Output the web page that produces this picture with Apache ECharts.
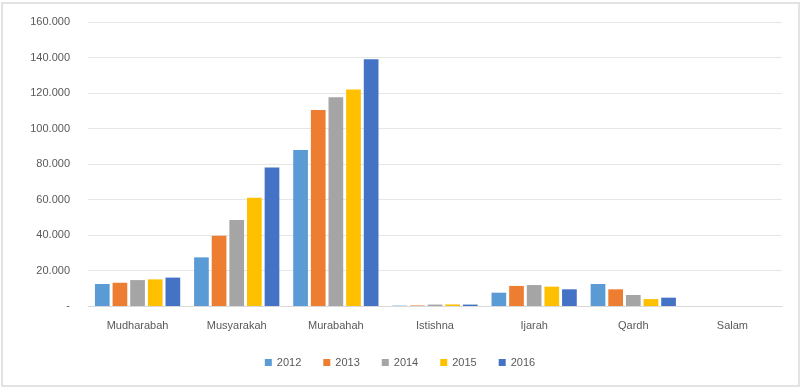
<!DOCTYPE html>
<html><head><meta charset="utf-8">
<script src="https://cdn.jsdelivr.net/npm/echarts@6/dist/echarts.min.js"></script>
<style>
html,body{margin:0;padding:0;background:#fff;}
#frame{position:absolute;left:1px;top:2px;width:795px;height:381px;border:2px solid #e3e3e3;}
#chart{position:absolute;left:0;top:0;width:800px;height:387px;}
</style></head>
<body><div id="frame"></div><div id="chart"></div>
<script>
const categories = ['Mudharabah','Musyarakah','Murabahah','Istishna','Ijarah','Qardh','Salam'];
const years = ['2012','2013','2014','2015','2016'];
const s2012 = [12400, 27400, 87900, 200, 7500, 12400, 0];
const s2013 = [13100, 39600, 110400, 300, 11300, 9400, 0];
const s2014 = [14600, 48500, 117600, 800, 11800, 6200, 0];
const s2015 = [15000, 61000, 122000, 900, 10900, 3900, 0];
const s2016 = [16000, 78000, 139000, 800, 9400, 4700, 0];
const colors = ['#5B9BD5','#ED7D31','#A5A5A5','#FFC000','#4472C4'];
const allData = [s2012, s2013, s2014, s2015, s2016];

const chart = echarts.init(document.getElementById('chart'));
chart.setOption({
  animation:false,
  color: colors,
  textStyle:{fontFamily:'Liberation Sans, Arial, sans-serif'},
  grid:{left:88, right:18, top:22, bottom:81, containLabel:false},
  legend:{bottom:14, left:'center', itemWidth:7, itemHeight:7, itemGap:22, icon:'rect',
    textStyle:{color:'#595959', fontSize:11}, data:years},
  xAxis:{type:'category', data:categories,
    axisLine:{lineStyle:{color:'#d9d9d9'}}, axisTick:{show:false},
    axisLabel:{color:'#595959', fontSize:11, margin:14}},
  yAxis:{type:'value', min:0, max:160000, interval:20000,
    axisLine:{show:false}, axisTick:{show:false},
    splitLine:{lineStyle:{color:'#e6e6e6'}},
    axisLabel:{color:'#595959', fontSize:11, margin:18,
      formatter:v => v===0 ? '-' : (v/1000).toFixed(0)+'.000'}},
  series: years.map((y,i)=>({name:y, type:'bar', data:allData[i],
    barGap:'20%', barCategoryGap:'14%'}))
});
</script></body></html>
